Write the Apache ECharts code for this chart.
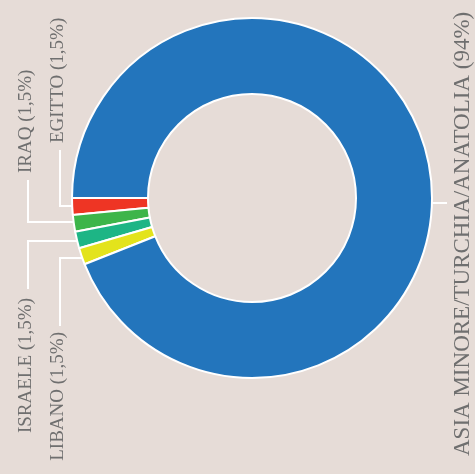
<!DOCTYPE html>
<html>
<head>
<meta charset="utf-8">
<script src="https://cdn.jsdelivr.net/npm/echarts@6/dist/echarts.min.js"></script>
<style>
html,body{margin:0;padding:0;background:#e6dcd7;}
#main{width:475px;height:474px;}
</style>
</head>
<body>
<div id="main"></div>
<script>
// dati
var paesi = ['EGITTO', 'IRAQ', 'ISRAELE', 'LIBANO', 'ASIA MINORE/TURCHIA/ANATOLIA'];
var quote = [1.5, 1.5, 1.5, 1.5, 94];
var colori = ['#ee3524', '#3db54a', '#1db585', '#e3e31c', '#2375bc'];

// posizione etichette (testo verticale) e linee
var etichette = [
    {x: 58, y: 143, align: 'left', size: 19, line: [[72, 206], [60, 206], [60, 150]]},
    {x: 26, y: 173, align: 'left', size: 19, line: [[74, 222], [28, 222], [28, 180]]},
    {x: 26, y: 298, align: 'right', size: 19, line: [[77, 241], [28, 241], [28, 289]]},
    {x: 58, y: 332, align: 'right', size: 19, line: [[82, 258], [60, 258], [60, 326]]},
    {x: 463, y: 456, align: 'left', size: 23, line: [[432, 203], [447, 203]]}
];

var dom_torta = document.getElementById('main');
var myChart_torta = echarts.init(dom_torta);

var dati = [];
for (var i = 0; i < paesi.length; i++) {
    dati.push({name: paesi[i], value: quote[i], itemStyle: {color: colori[i]}});
}

var option_torta = {
    backgroundColor: '#e6dcd7',
    animation: false,
    series: [{
        type: 'pie',
        center: [252, 198],
        radius: [104, 180],
        startAngle: 180,
        clockwise: false,
        itemStyle: {borderColor: '#fff', borderWidth: 2},
        label: {
            show: true,
            position: 'outside',
            rotate: 90,
            color: '#6f6f6f',
            fontFamily: 'Liberation Serif',
            fontSize: 19,
            formatter: function (p) {
                return p.name + ' (' + String(p.value).replace('.', ',') + '%)';
            }
        },
        labelLine: {show: true, lineStyle: {color: '#fff', width: 2}},
        labelLayout: function (params) {
            var e = etichette[params.dataIndex];
            return {
                x: e.x,
                y: e.y,
                align: e.align,
                verticalAlign: 'middle',
                rotate: 90,
                fontSize: e.size,
                labelLinePoints: e.line
            };
        },
        emphasis: {disabled: true},
        data: dati
    }]
};
myChart_torta.setOption(option_torta, true);
</script>
</body>
</html>
